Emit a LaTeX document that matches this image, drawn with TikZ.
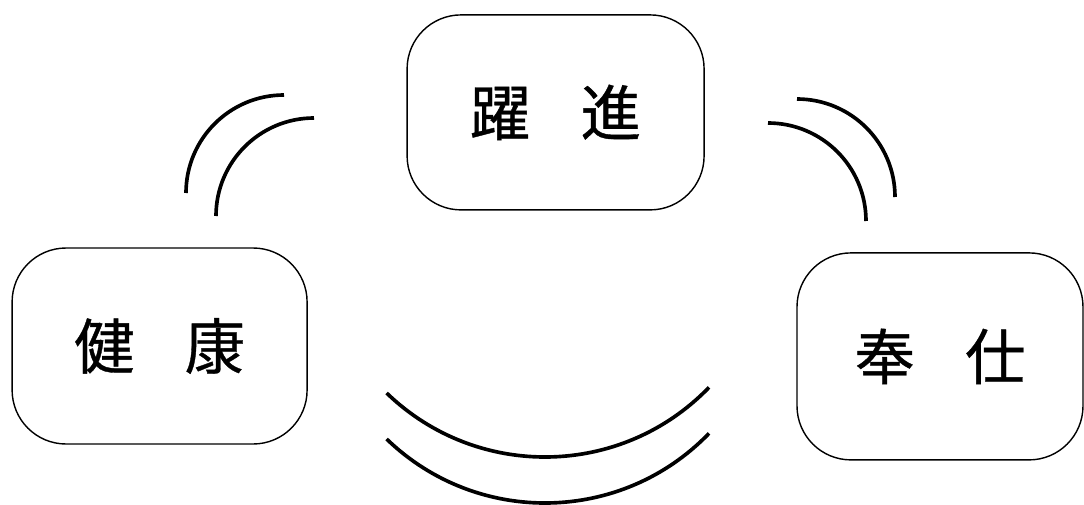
\documentclass[tikz,border=0pt]{standalone}
\usepackage{fontspec}
\usepackage{tikz}
\usetikzlibrary{positioning, calc}
\newfontfamily\jpfont[FakeBold=0.6]{Noto Sans CJK JP}

\begin{document}
\begin{tikzpicture}[
  motto/.style={draw, line width=1pt, rounded corners=1.35cm, inner sep=0pt,
    font=\jpfont\fontsize{43}{50}\selectfont},
  ring/.style={line width=2.6pt}
]
\useasboundingbox (0,0) rectangle (27.1,12.6);

% Mottos
\node[motto, minimum width=7.425cm, minimum height=4.875cm] (yakushin) at (13.89,9.79) {躍\hspace{0.83em}進};
\node[motto, minimum width=7.375cm, minimum height=4.9cm] (kenko) at (3.99,3.95) {健\hspace{0.83em}康};
\node[motto, minimum width=7.15cm, minimum height=5.175cm] (hoshi) at (23.5,3.69) {奉\hspace{0.83em}仕};

% Arcs, top left
\foreach \dx/\dy in {0/0, 0.75/-0.575} {
    \draw[ring] (4.65+\dx,7.775+\dy) arc[start angle=180, end angle=90, radius=2.45];
}

% Arcs, top right
\foreach \dx/\dy in {0/0, 0.725/0.6} {
    \draw[ring] (19.2+\dx,9.525+\dy) arc[start angle=90, end angle=0, radius=2.45];
}

% Arcs, bottom
\coordinate (bc) at (13.625,6.875);
\foreach \s in {0,1.15} {
    \draw[ring] ($(bc)+(226:5.7)+(0,-\s)$) arc[start angle=226, end angle=316, radius=5.7];
}
\end{tikzpicture}
\end{document}
